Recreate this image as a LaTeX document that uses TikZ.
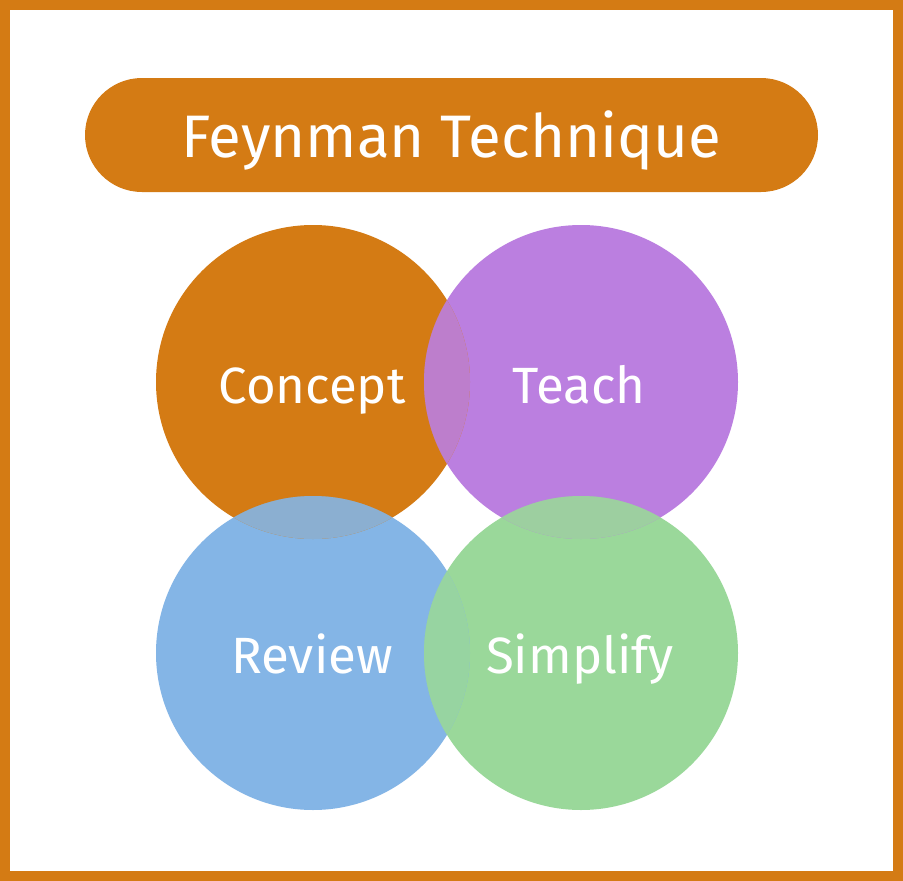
\documentclass[tikz,border=0pt]{standalone}
\usepackage{fontspec}
\setmainfont{Fira Sans}
\definecolor{orng}{HTML}{D47B14}
\definecolor{purp}{HTML}{BB7FE0}
\definecolor{blu}{HTML}{84B5E6}
\definecolor{grn}{HTML}{9AD89A}
\begin{document}
\begin{tikzpicture}[x=1pt,y=-1pt,
  blob/.style={circle,minimum size=314pt,inner sep=0pt},
  pill/.style={rounded corners=57pt,fill=orng},
  lbl/.style={text=white,anchor=base,font=\fontsize{51}{60}\selectfont}]
\useasboundingbox (0,0) rectangle (903,881);
\fill[orng] (0,0) rectangle (903,881);
\fill[white] (10,10) rectangle (893,871);
\fill[pill] (85,78) rectangle (818,192);
\node[text=white,anchor=base,font=\fontsize{60}{70}\selectfont] (title) at (451,157) {Feynman Technique};
\node[blob,fill=orng] (concept) at (313,382) {};
\node[blob,fill=purp] (teach) at (581,382) {};
\node[blob,fill=blu] (review) at (313,653) {};
\node[blob,fill=grn] (simplify) at (581,653) {};
% overlaps: later circle at 0.9 opacity over earlier one
\begin{scope}
\clip (concept.center) circle (157);
\fill[orng] (teach.center) circle (157);
\fill[purp,fill opacity=0.9] (teach.center) circle (157);
\fill[orng] (review.center) circle (157);
\fill[blu,fill opacity=0.9] (review.center) circle (157);
\end{scope}
\begin{scope}
\clip (teach.center) circle (157);
\fill[purp] (simplify.center) circle (157);
\fill[grn,fill opacity=0.9] (simplify.center) circle (157);
\end{scope}
\begin{scope}
\clip (review.center) circle (157);
\fill[blu] (simplify.center) circle (157);
\fill[grn,fill opacity=0.9] (simplify.center) circle (157);
\end{scope}
\node[lbl] (tconcept) at (312,403) {Concept};
\node[lbl] (tteach) at (579,403) {Teach};
\node[lbl] (treview) at (312,673) {Review};
\node[lbl] (tsimplify) at (580,673) {Simplify};
\end{tikzpicture}
\end{document}
